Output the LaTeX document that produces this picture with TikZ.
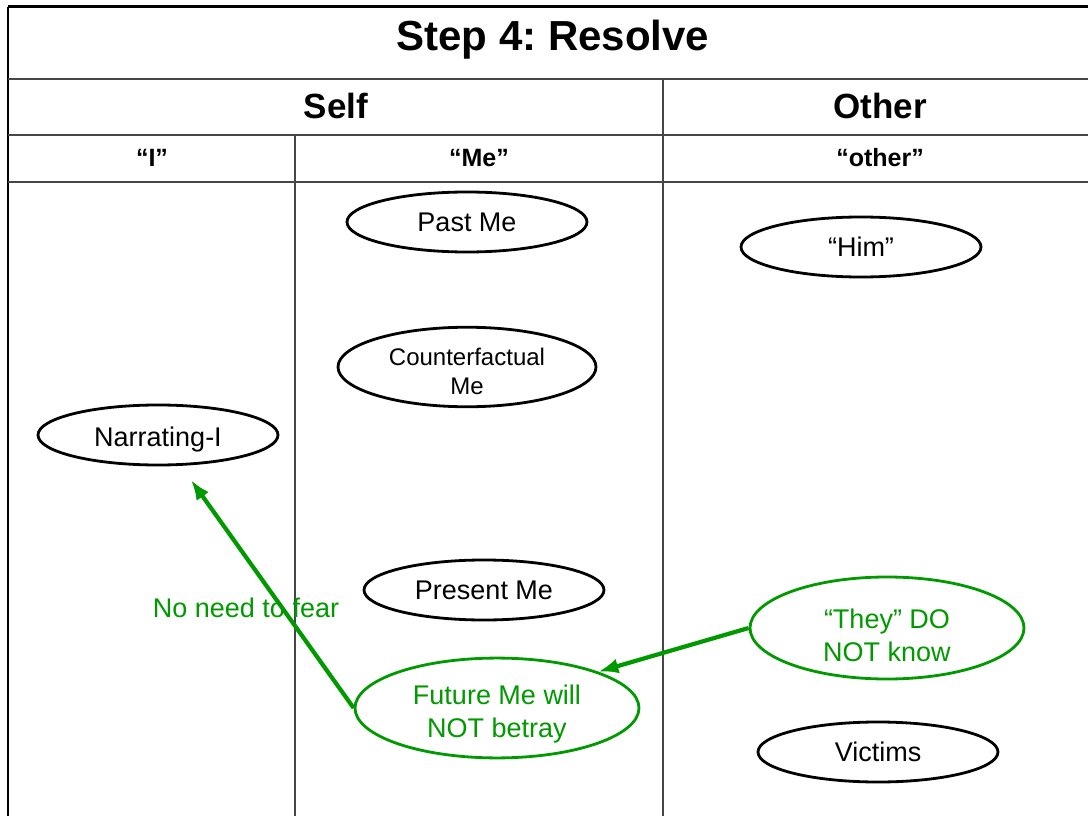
\documentclass[tikz,border=0pt]{standalone}
\usepackage{fontspec}
\setmainfont{Liberation Sans}
\frenchspacing
\usetikzlibrary{arrows.meta,shapes.geometric}
\definecolor{okgreen}{RGB}{0,153,0}
\definecolor{rule}{RGB}{70,70,70}

\begin{document}
\begin{tikzpicture}[x=1pt,y=-1pt,
    oval/.style={ellipse,draw,line width=2.8pt,inner sep=0pt,align=center,
                 minimum width=240pt,minimum height=60pt,
                 font=\fontsize{27}{33}\selectfont},
    goodoval/.style={oval,draw=okgreen,text=okgreen},
    head/.style={font=\bfseries\fontsize{35}{40}\selectfont},
    subhead/.style={font=\bfseries\fontsize{25}{30}\selectfont},
    push/.style={draw=okgreen,line width=4.2pt,-{Latex[length=20pt,width=15pt]}}]

      \useasboundingbox (0,0) rectangle (1088,816);
      \clip (0,0) rectangle (1088,816);

      % table
      \draw[line width=3pt] (8,7)--(1097,7);
      \draw[line width=2pt] (8,7)--(8,816);
      \draw[rule,line width=1.3pt] (8,79)--(1097,79) (8,135)--(1097,135) (8,182)--(1097,182);
      \draw[rule,line width=1.3pt] (295,135)--(295,816) (663,79)--(663,816);

      \node[font=\bfseries\fontsize{42}{48}\selectfont] (title) at (553,40) {Step 4: Resolve};
      \node[head] (self)  at (336,106) {Self};
      \node[head] (other) at (880,106) {Other};
      \node[subhead] (i)      at (152,158) {“I”};
      \node[subhead] (me)     at (479,158) {“Me”};
      \node[subhead] (others) at (880,158) {“other”};

      % ovals
      \node[oval] (past)    at (467,222) {Past Me};
      \node[oval,minimum width=258pt,minimum height=77pt,
            font=\fontsize{24}{29}\selectfont] (counter) at (467,367) {\rule{0pt}{27pt}Counterfactual\\Me};
      \node[oval] (narr)    at (158,435) {\rule{0pt}{29pt}Narrating-I};
      \node[oval] (present) at (484,590) {Present Me};
      \node[oval] (him)     at (861,247) {“Him”};
      \node[oval] (victims) at (878,752) {Victims};
      \node[goodoval,minimum width=284pt,minimum height=93pt] (future) at (497,708) {\rule{0pt}{32pt}Future Me will\\NOT betray};
      \node[goodoval,minimum width=274pt,minimum height=102pt] (they) at (887,628) {\rule{0pt}{34pt}“They” DO\\NOT know};

      \node[text=okgreen,font=\fontsize{27}{33}\selectfont] (fear) at (246,608) {No need to fear};

      \coordinate (nfear) at (191,480);
      \draw[push] (future.west) -- (nfear);
      \draw[push] (they.west) -- (future.north east);
    \end{tikzpicture}
\end{document}
